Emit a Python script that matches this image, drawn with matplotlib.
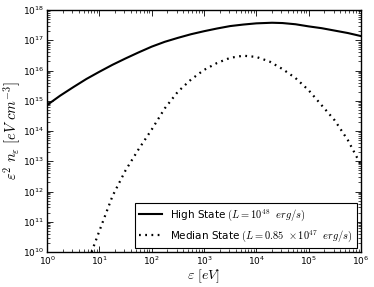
import numpy as np
import matplotlib
matplotlib.use('Agg')
import matplotlib.pyplot as plt

# values (log10 of energy in eV, log10 of eps^2 n_eps)
high_log_eps = [0.0, 0.25, 0.5, 0.75, 1.0, 1.25, 1.5, 1.75, 2.0, 2.25, 2.5, 2.75, 3.0,
                3.25, 3.5, 3.75, 4.0, 4.3, 4.5, 4.75, 5.0, 5.25, 5.5, 5.75, 6.0]
high_log_n = [14.86, 15.17, 15.45, 15.72, 15.96, 16.19, 16.40, 16.60, 16.79, 16.95, 17.08,
              17.20, 17.30, 17.39, 17.47, 17.52, 17.56, 17.58, 17.57, 17.53, 17.46,
              17.40, 17.32, 17.24, 17.14]

median_log_eps = [0.85, 1.0, 1.25, 1.5, 1.75, 2.0, 2.25, 2.5, 2.75, 3.0, 3.25, 3.5, 3.75,
                  4.0, 4.25, 4.5, 4.75, 5.0, 5.25, 5.5, 5.75, 6.0]
median_log_n = [10.0, 10.7, 11.85, 12.7, 13.4, 14.05, 14.75, 15.3, 15.7, 16.02, 16.25,
                16.42, 16.49, 16.45, 16.3, 16.05, 15.75, 15.35, 14.85, 14.35, 13.7, 12.88]

labels = [r'High State $(L=10^{48}\ \ erg/s)$',
          r'Median State $(L=0.85\ \times10^{47}\ \ erg/s)$']

plt.rcParams['mathtext.fontset'] = 'cm'
plt.rcParams['font.family'] = ['DejaVu Sans']

fig = plt.figure(figsize=(3.74, 2.87), dpi=100)
ax = fig.add_axes([0.126, 0.122, 0.839, 0.843])

ax.plot(10 ** np.array(high_log_eps), 10 ** np.array(high_log_n),
        color='black', lw=1.5, label=labels[0])
ax.plot(10 ** np.array(median_log_eps), 10 ** np.array(median_log_n),
        color='black', lw=1.6, linestyle=(0, (0.8, 2.0)), label=labels[1])

ax.set_xscale('log')
ax.set_yscale('log')
ax.set_xlim(1, 1e6)
ax.set_ylim(1e10, 1e18)

ax.tick_params(which='both', direction='in', top=True, right=True, labelsize=6.5, pad=2)
ax.tick_params(which='major', length=4, width=0.6)
ax.tick_params(which='minor', length=2, width=0.5)
for s in ax.spines.values():
    s.set_linewidth(1.0)

ax.set_xlabel(r'$\varepsilon\ [eV]$', fontsize=10, labelpad=0)
ax.set_ylabel(r'$\varepsilon^2\ n_\varepsilon\ [eV\ cm^{-3}]$', fontsize=10.5, labelpad=1)
ax.yaxis.set_label_coords(-0.077, 0.5)
ax.xaxis.set_label_coords(0.5, -0.065)

leg = ax.legend(loc='lower right', fontsize=7.5, fancybox=False, framealpha=1,
                edgecolor='black', handlelength=2.2, borderaxespad=0.4)
leg.get_frame().set_linewidth(0.8)

fig.savefig('out.png', dpi=100)
